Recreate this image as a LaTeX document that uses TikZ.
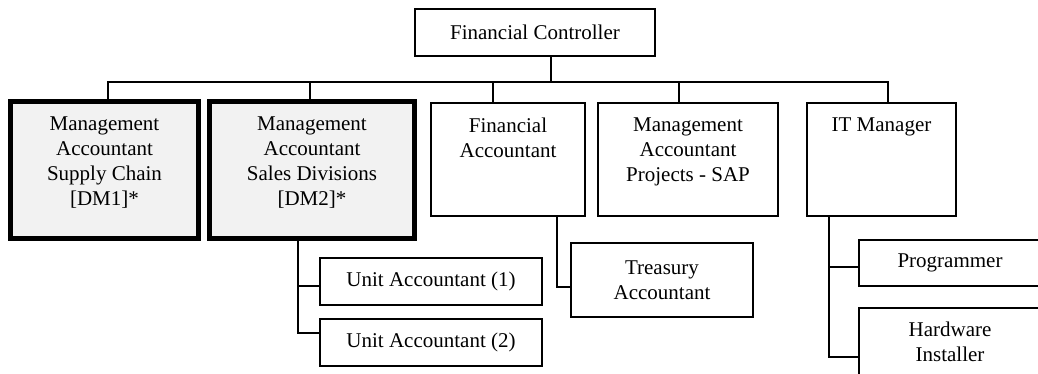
\documentclass[tikz,border=0pt]{standalone}
\usepackage{fontspec}
\setmainfont{Liberation Serif}
\usetikzlibrary{positioning}
\definecolor{boxgray}{HTML}{F2F2F2}
\tikzset{>=latex,
  post/.style={draw, line width=2pt, inner sep=0pt, align=center},
  head/.style={post, line width=5pt, fill=boxgray},
  title/.style={anchor=north, inner sep=0pt, align=center},
  link/.style={line width=2pt}}

\begin{document}
\begin{tikzpicture}[x=1pt, y=-1pt, font=\fontsize{21}{25}\selectfont]
            \clip (0,0) rectangle (1038,374);
            \node[post, minimum width=240pt, minimum height=47pt] (ctrl) at (535,32.5) {Financial Controller};
            \node[head, minimum width=188pt, minimum height=137pt] (dmone) at (104.5,170) {};
            \node[head, minimum width=205pt, minimum height=137pt] (dmtwo) at (312,170) {};
            \node[post, minimum width=154pt, minimum height=113pt] (finacc) at (508,159.5) {};
            \node[post, minimum width=180pt, minimum height=113pt] (mapsap) at (688,159.5) {};
            \node[post, minimum width=149pt, minimum height=113pt] (itman) at (881.5,159.5) {};
            \node[title] (dmonet) at ([yshift=-18pt]dmone.north) {Management\\Accountant\\Supply Chain\\{[DM1]*}};
            \node[title] (dmtwot) at ([yshift=-18pt]dmtwo.north) {Management\\Accountant\\Sales Divisions\\{[DM2]*}};
            \node[title] (finacct) at ([yshift=-15.5pt]finacc.north) {Financial\\Accountant};
            \node[title] (mapsapt) at ([yshift=-15.5pt]mapsap.north) {Management\\Accountant\\Projects - SAP};
            \node[title] (itmant) at ([yshift=-15.5pt]itman.north) {IT Manager};
            \node[post, minimum width=222pt, minimum height=47pt] (unitone) at (431,281.5) {Unit Accountant (1)};
            \node[post, minimum width=222pt, minimum height=47pt] (unittwo) at (431,342.5) {Unit Accountant (2)};
            \node[post, minimum width=182pt, minimum height=74pt] (treas) at (662,280) {Treasury\\Accountant};
            \node[post, minimum width=182pt, minimum height=46pt] (prog) at (950,263) {Programmer};
            \node[post, minimum width=182pt, minimum height=68pt] (hware) at (950,342) {Hardware\\Installer};
            % top level bus
            \coordinate (bus) at (0,82);
            \coordinate (top) at ([xshift=16pt]ctrl.south);
            \coordinate (d1) at ([xshift=3.5pt]dmone.north);
            \coordinate (d2) at ([xshift=-2pt]dmtwo.north);
            \coordinate (d3) at ([xshift=-15pt]finacc.north);
            \coordinate (d4) at ([xshift=-9pt]mapsap.north);
            \coordinate (d5) at ([xshift=6.5pt]itman.north);
            \draw[link] (top) -- (top |- bus);
            \draw[link] (d1) -- (d1 |- bus) -- (d5 |- bus) -- (d5);
            \foreach \d in {d2,d3,d4}
                \draw[link] (\d) -- (\d |- bus);
            % second level
            \coordinate (s2) at ([xshift=-14pt]dmtwo.south);
            \coordinate (u1) at ([yshift=-4.5pt]unitone.west);
            \coordinate (u2) at ([yshift=9.5pt]unittwo.west);
            \draw[link] (s2) |- (u2);
            \draw[link] (u1) -| (s2);
            \coordinate (s3) at ([xshift=49pt]finacc.south);
            \draw[link] (s3) |- ([yshift=-7pt]treas.west);
            \coordinate (s5) at ([xshift=-52.5pt]itman.south);
            \coordinate (p1) at ([yshift=-4pt]prog.west);
            \draw[link] (s5) |- ([yshift=-15pt]hware.west);
            \draw[link] (p1) -| (s5);
        \end{tikzpicture}
\end{document}
